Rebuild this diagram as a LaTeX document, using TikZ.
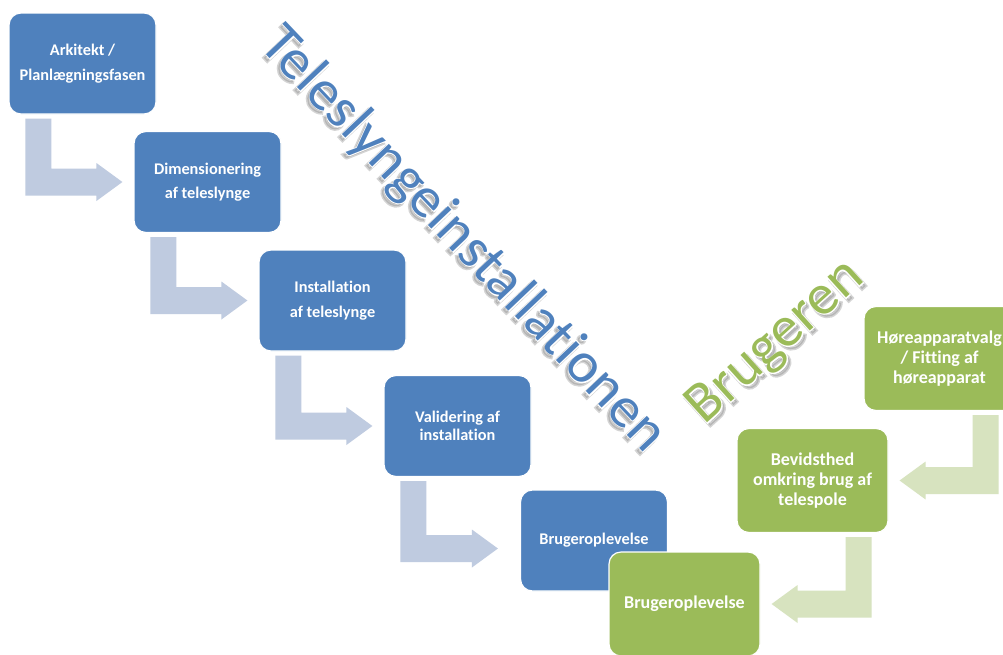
\documentclass[tikz,border=0pt]{standalone}
\usepackage{fontspec}
\setmainfont{Carlito}[Ligatures=NoCommon]
\newfontfamily\rimfont[FakeBold=3, Ligatures=NoCommon]{Carlito}
\newfontfamily\shadefont[FakeBold=5, Ligatures=NoCommon]{Carlito}
\usetikzlibrary{positioning,calc}
\definecolor{phaseblue}{HTML}{4F81BD}
\definecolor{phasegreen}{HTML}{9BBB59}
\definecolor{flowblue}{HTML}{BFCBE0}
\definecolor{flowgreen}{HTML}{D7E3BF}
\tikzset{%
  phase/.style={
    rectangle,
    rounded corners=12pt,
    draw=white,
    line width=1.2pt,
    text=white,
    align=center,
    inner sep=2pt
  },
  blue phase/.style={
    phase,
    fill=phaseblue,
    minimum width=147pt,
    minimum height=101pt,
    font=\bfseries\fontsize{16.3}{18}\selectfont
  },
  green phase/.style={
    phase,
    fill=phasegreen,
    minimum width=151pt,
    minimum height=104pt,
    font=\bfseries\fontsize{18}{20}\selectfont
  },
  banner/.style={
    inner sep=0pt
  },
}
% bent block arrow: down out of #1, then right to the point #2
\newcommand{\downright}[3]{%
  \coordinate (tip) at #2;
  \coordinate (top) at ([shift={(17,4)}]#1.south west);
  \fill[#3] (top) -- ++(26,0) |- ([shift={(-26,-13.5)}]tip) -- ++(0,-5.5)
    -- (tip) -- ([shift={(-26,19)}]tip) -- ++(0,-5.5) -| (top) -- cycle;
}
% the same, mirrored: down out of #1, then left to the point #2
\newcommand{\downleft}[3]{%
  \coordinate (tip) at #2;
  \coordinate (top) at ([shift={(-17,4)}]#1.south east);
  \fill[#3] (top) -- ++(-26,0) |- ([shift={(26,-13.5)}]tip) -- ++(0,-5.5)
    -- (tip) -- ([shift={(26,19)}]tip) -- ++(0,-5.5) -| (top) -- cycle;
}
% big slanted title: shadow, white rim, coloured face
\newcommand{\wordart}[4]{%
  \begin{scope}[shift={#1}, rotate=#2, transform shape]
    \node[banner, text=black!55, text opacity=.3,
      font=\shadefont\fontsize{58}{60}\selectfont] at (0,4) {#4};
    \node[banner, text=white, font=\rimfont\fontsize{58}{60}\selectfont] at (0,0) {#4};
    \node[banner, text=#3, font=\fontsize{58}{60}\selectfont] at (0,0) {#4};
  \end{scope}}

\begin{document}
\begin{tikzpicture}[x=1pt, y=-1pt]
\fill[white] (0,0) rectangle (1003,654);
\useasboundingbox (0,0) rectangle (1003,654);

% installation steps
\node[blue phase] (arkitekt) at (82.5,63.5) {Arkitekt /\\[7pt]Planlægningsfasen};
\node[blue phase] (dimension) at (207.5,182) {Dimensionering\\[6pt]af teleslynge};
\node[blue phase] (install) at (332.5,300.5) {Installation\\[7pt]af teleslynge};
\node[blue phase] (valid) at (457.5,426) {Validering af\\installation};
\node[blue phase] (oplevblue) at (594,540.5) {Brugeroplevelse};

\downright{arkitekt}{([xshift=-11pt]dimension.west)}{flowblue}
\downright{dimension}{([xshift=-11pt]install.west)}{flowblue}
\downright{install}{([xshift=-11pt]valid.west)}{flowblue}
\downright{valid}{([shift={(-22,8)}]oplevblue.west)}{flowblue}

% user steps
\node[green phase] (oplevgreen) at (684.5,604) {Brugeroplevelse};
\node[green phase] (bevidst) at (812.5,480.5) {Bevidsthed\\omkring brug af\\telespole};
\node[green phase] (hoere) at (939.5,358.5) {Høreapparatvalg\\/ Fitting af\\høreapparat};

\downleft{hoere}{([xshift=11pt]bevidst.east)}{flowgreen}
\downleft{bevidst}{([xshift=11pt]oplevgreen.east)}{flowgreen}

% titles
\wordart{(463,240)}{-46.5}{phaseblue}{Teleslyngeinstallationen}
\wordart{(776,343)}{42}{phasegreen}{Brugeren}
\end{tikzpicture}
\end{document}
